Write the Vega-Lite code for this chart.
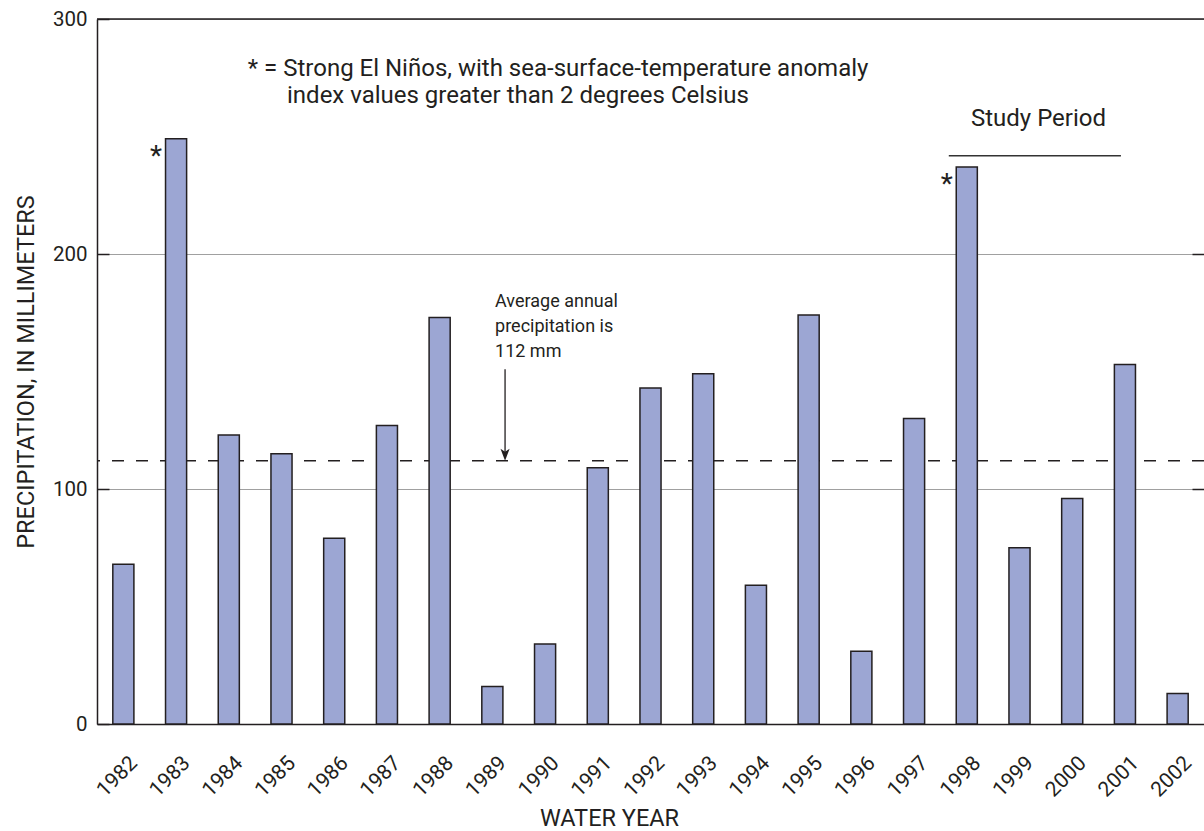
{
  "$schema": "https://vega.github.io/schema/vega-lite/v6.json",
  "width": 1107,
  "height": 705,
  "autosize": {"type": "none"},
  "padding": {"left": 97, "top": 19, "right": 0, "bottom": 107},
  "background": "white",
  "config": {
    "view": {"stroke": null},
    "font": "Roboto",
    "axis": {"labelFont": "Roboto", "titleFont": "Roboto", "labelColor": "#231f20", "titleColor": "#231f20", "titleFontWeight": "normal"}
  },
  "datasets": {
    "precip": [
      {"year": 1982, "precip": 68},
      {"year": 1983, "precip": 249},
      {"year": 1984, "precip": 123},
      {"year": 1985, "precip": 115},
      {"year": 1986, "precip": 79},
      {"year": 1987, "precip": 127},
      {"year": 1988, "precip": 173},
      {"year": 1989, "precip": 16},
      {"year": 1990, "precip": 34},
      {"year": 1991, "precip": 109},
      {"year": 1992, "precip": 143},
      {"year": 1993, "precip": 149},
      {"year": 1994, "precip": 59},
      {"year": 1995, "precip": 174},
      {"year": 1996, "precip": 31},
      {"year": 1997, "precip": 130},
      {"year": 1998, "precip": 237},
      {"year": 1999, "precip": 75},
      {"year": 2000, "precip": 96},
      {"year": 2001, "precip": 153},
      {"year": 2002, "precip": 13}
    ],
    "elnino": [
      {"year": 1983, "precip": 249},
      {"year": 1998, "precip": 237}
    ]
  },
  "resolve": {"axis": {"x": "independent", "y": "independent"}},
  "layer": [
    {
      "data": {"values": [{"average": 112}]},
      "mark": {"type": "rule", "color": "#231f20", "strokeWidth": 1.6, "strokeDash": [12, 12]},
      "encoding": {"y": {"field": "average", "type": "quantitative", "axis": null}}
    },
    {
      "data": {"name": "precip"},
      "mark": {"type": "bar", "fill": "#9ca6d3", "stroke": "#231f20", "strokeWidth": 1.5},
      "encoding": {
        "x": {
          "field": "year", "type": "ordinal",
          "scale": {"paddingInner": 0.6, "paddingOuter": 0.3},
          "axis": {
            "orient": "bottom",
            "title": "WATER YEAR", "labelAngle": -45, "labelAlign": "right", "labelBaseline": "top",
            "ticks": false, "domainColor": "#231f20", "domainWidth": 1.5,
            "labelFontSize": 21, "labelPadding": 28, "labelOffset": 3,
            "titleFontSize": 23.5, "titleX": 512, "titleY": 101, "titleBaseline": "alphabetic", "titleAlign": "center"
          }
        },
        "y": {
          "field": "precip", "type": "quantitative",
          "scale": {"domain": [0, 300], "nice": false},
          "axis": {
            "orient": "left",
            "title": "PRECIPITATION, IN MILLIMETERS", "values": [0, 100, 200, 300],
            "grid": true, "gridColor": "#a0a0a0", "gridWidth": 1,
            "domainColor": "#231f20", "domainWidth": 1.5,
            "tickColor": "#231f20", "tickWidth": 1.5, "tickSize": -12,
            "labelFontSize": 20.5, "labelPadding": 22,
            "titleFontSize": 23.5, "titlePadding": 14
          }
        }
      }
    },
    {
      "data": {"name": "elnino"},
      "mark": {"type": "text", "text": "*", "fontSize": 28, "dx": -20, "dy": 18, "color": "#231f20", "font": "Roboto"},
      "encoding": {
        "x": {"field": "year", "type": "ordinal", "axis": null},
        "y": {
          "field": "precip", "type": "quantitative",
          "axis": {"orient": "right", "labels": false, "domain": false, "grid": false, "title": null,
                   "values": [100, 200], "tickColor": "#231f20", "tickWidth": 1.5, "tickSize": -12}
        }
      }
    },
    {
      "data": {"values": [{"top": 300}]},
      "mark": {"type": "rule", "color": "#231f20", "strokeWidth": 1.5},
      "encoding": {"y": {"field": "top", "type": "quantitative", "axis": null}}
    },
    {
      "data": {"values": [{"year": 1984, "v": 275.7, "label": "* = Strong El Niños, with sea-surface-temperature anomaly"}]},
      "mark": {"type": "text", "align": "left", "baseline": "alphabetic", "dx": 19, "fontSize": 24, "font": "Roboto", "color": "#231f20"},
      "encoding": {
        "x": {"field": "year", "type": "ordinal", "axis": null},
        "y": {"field": "v", "type": "quantitative", "axis": null},
        "text": {"field": "label"}
      }
    },
    {
      "data": {"values": [{"year": 1985, "v": 264.3, "label": "index values greater than 2 degrees Celsius"}]},
      "mark": {"type": "text", "align": "left", "baseline": "alphabetic", "dx": 5.5, "fontSize": 24, "font": "Roboto", "color": "#231f20"},
      "encoding": {
        "x": {"field": "year", "type": "ordinal", "axis": null},
        "y": {"field": "v", "type": "quantitative", "axis": null},
        "text": {"field": "label"}
      }
    },
    {
      "data": {"values": [{"year": 1999, "v": 254.5, "label": "Study Period"}]},
      "mark": {"type": "text", "align": "center", "baseline": "alphabetic", "dx": 19, "fontSize": 24, "font": "Roboto", "color": "#231f20"},
      "encoding": {
        "x": {"field": "year", "type": "ordinal", "axis": null},
        "y": {"field": "v", "type": "quantitative", "axis": null},
        "text": {"field": "label"}
      }
    },
    {
      "data": {"values": [{"start": 1998, "end": 2001, "v": 241.8}]},
      "mark": {"type": "rule", "color": "#333333", "strokeWidth": 1.5, "xOffset": -18, "x2Offset": -4},
      "encoding": {
        "x": {"field": "start", "type": "ordinal", "axis": null},
        "x2": {"field": "end"},
        "y": {"field": "v", "type": "quantitative", "axis": null}
      }
    },
    {
      "data": {"values": [{"year": 1989, "v": 177.4, "label": "Average annual\nprecipitation is\n112 mm"}]},
      "mark": {"type": "text", "align": "left", "baseline": "alphabetic", "dx": 2.7, "fontSize": 18, "lineHeight": 25, "lineBreak": "\n", "font": "Roboto", "color": "#231f20"},
      "encoding": {
        "x": {"field": "year", "type": "ordinal", "axis": null},
        "y": {"field": "v", "type": "quantitative", "axis": null},
        "text": {"field": "label"}
      }
    },
    {
      "data": {"values": [{"year": 1989, "from": 151, "to": 114}]},
      "mark": {"type": "rule", "color": "#231f20", "strokeWidth": 1.3, "xOffset": 12.7},
      "encoding": {
        "x": {"field": "year", "type": "ordinal", "axis": null},
        "y": {"field": "from", "type": "quantitative", "axis": null},
        "y2": {"field": "to"}
      }
    },
    {
      "data": {"values": [{"year": 1989, "tip": 112}]},
      "mark": {"type": "point", "shape": "M0,0 L-0.38,-1 L0,-0.75 L0.38,-1 Z", "size": 576, "filled": true, "color": "#231f20", "opacity": 1, "strokeWidth": 0, "xOffset": 12.7},
      "encoding": {
        "x": {"field": "year", "type": "ordinal", "axis": null},
        "y": {"field": "tip", "type": "quantitative", "axis": null}
      }
    }
  ]
}
